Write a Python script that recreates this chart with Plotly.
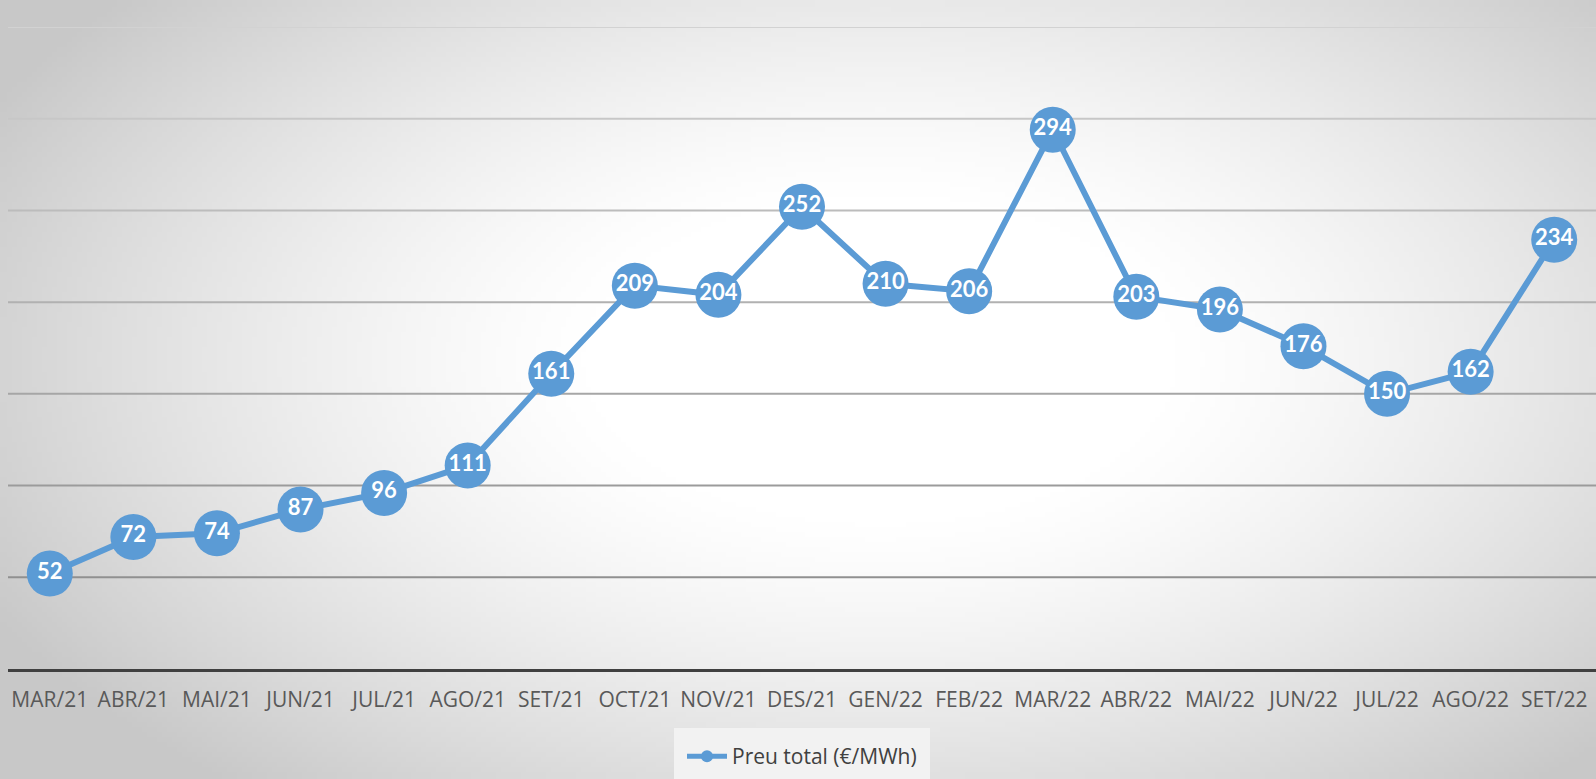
import base64
import struct
import zlib
import plotly.graph_objects as go

# ---- data ----
months = ["MAR/21", "ABR/21", "MAI/21", "JUN/21", "JUL/21", "AGO/21", "SET/21",
          "OCT/21", "NOV/21", "DES/21", "GEN/22", "FEB/22", "MAR/22", "ABR/22",
          "MAI/22", "JUN/22", "JUL/22", "AGO/22", "SET/22"]
preu_total = [52, 72, 74, 87, 96, 111, 161, 209, 204, 252, 210, 206, 294, 203,
              196, 176, 150, 162, 234]
series_name = "Preu total (€/MWh)"
grid_values = [50, 100, 150, 200, 250, 300, 350]

# ---- layout geometry ----
W, H = 1596, 779
ML, MR, MT, MB = 8, 0, 27, 110
PW, PH = W - ML - MR, H - MT - MB


# ---- radial gradient background as PNG ----
def make_png(w, h, cx, cy, rx, ry):
    rows = []
    for j in range(h):
        row = bytearray([0])
        y = (j + 0.5) / h * H
        for i in range(w):
            x = (i + 0.5) / w * W
            d = (((x - cx) / rx) ** 2 + ((y - cy) / ry) ** 2) ** 0.5
            t = max(0.0, min(1.0, (d - 0.28) / 0.72))
            v = int(round(255 - 55 * t ** 1.3))
            row += bytes([v, v, v])
        rows.append(bytes(row))
    raw = b"".join(rows)

    def chunk(tag, data):
        c = struct.pack(">I", len(data)) + tag + data
        return c + struct.pack(">I", zlib.crc32(tag + data) & 0xffffffff)

    png = b"\x89PNG\r\n\x1a\n"
    png += chunk(b"IHDR", struct.pack(">IIBBBBB", w, h, 8, 2, 0, 0, 0))
    png += chunk(b"IDAT", zlib.compress(raw, 9))
    png += chunk(b"IEND", b"")
    return "data:image/png;base64," + base64.b64encode(png).decode()


bg_src = make_png(320, 156, 880, 360, 1000, 560)

blue = "#5b9bd5"

fig = go.Figure()
fig.add_trace(go.Scatter(
    x=months, y=preu_total, name=series_name,
    mode="lines+markers+text",
    line=dict(color=blue, width=6),
    marker=dict(size=46, color=blue),
    text=[str(v) for v in preu_total],
    textposition="middle center",
    textfont=dict(family="Lato", size=22, color="white", weight="bold"),
    cliponaxis=False,
    showlegend=True,
))

shapes = []
for k, gv in enumerate(grid_values):
    # gridlines darker toward the bottom
    shade = int(0x90 + (0xd2 - 0x90) * k / (len(grid_values) - 1))
    col = "#%02x%02x%02x" % (shade, shade, shade)
    shapes.append(dict(type="line", xref="paper", yref="y", x0=0, x1=1,
                       y0=gv, y1=gv, line=dict(color=col, width=2),
                       layer="below"))

fig.update_layout(
    width=W, height=H,
    margin=dict(l=ML, r=MR, t=MT, b=MB, pad=0, autoexpand=False),
    paper_bgcolor="#d8d8d8",
    plot_bgcolor="rgba(0,0,0,0)",
    font=dict(family="Open Sans", color="#595959", size=21),
    images=[dict(source=bg_src, xref="paper", yref="paper",
                 x=-ML / PW, y=1 + MT / PH, sizex=W / PW, sizey=H / PH,
                 xanchor="left", yanchor="top", sizing="stretch",
                 layer="below")],
    shapes=shapes,
    xaxis=dict(
        type="category", range=[-0.5, len(months) - 0.5],
        showgrid=False, zeroline=False,
        showline=True, linecolor="#404040", linewidth=3,
        ticks="", ticklabelstandoff=10, automargin=False,
        tickfont=dict(family="Open Sans", size=21, color="#595959"),
        fixedrange=True,
    ),
    yaxis=dict(
        range=[0, 350], showgrid=False, zeroline=False,
        showticklabels=False, showline=False, fixedrange=True,
    ),
    legend=dict(
        orientation="h", x=0.5, xanchor="center", y=-(728 - MT - PH) / PH,
        yanchor="top", bgcolor="#f2f2f2",
        bordercolor="#f2f2f2", borderwidth=8,
        font=dict(family="Open Sans", size=21, color="#404040"),
        itemsizing="constant", itemwidth=40,
    ),
)

fig.write_html("out.html", config={"displayModeBar": False},
               post_script="document.body.style.margin='0';"
                           "document.body.style.overflow='hidden';")
